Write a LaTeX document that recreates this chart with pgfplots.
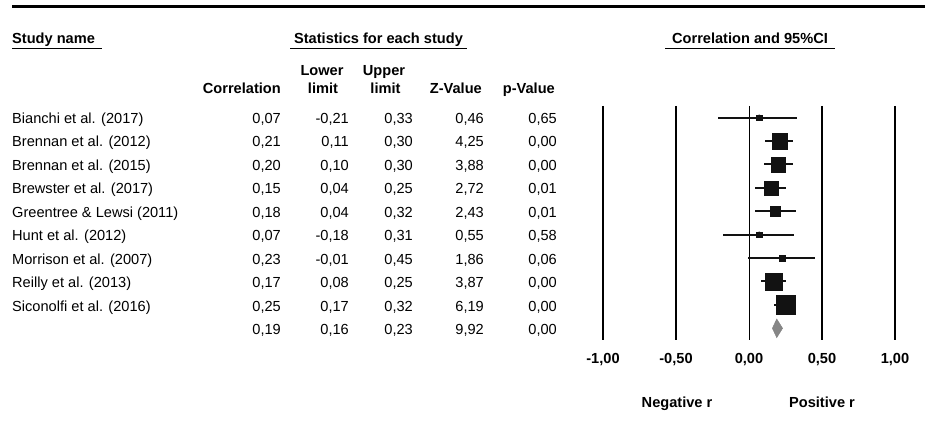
\documentclass[border=0pt]{standalone}
\usepackage{pgfplots}
\pgfplotsset{compat=1.18}
\usepackage{pgfplotstable}
\usepackage{fontspec}
\setmainfont{Liberation Sans}
\pgfplotstableread{
row r lo hi ms
1 0.07 -0.21 0.33 2.6
2 0.21 0.11 0.30 7.8
3 0.20 0.10 0.30 7.3
4 0.15 0.04 0.25 7.0
5 0.18 0.04 0.32 4.9
6 0.07 -0.18 0.31 2.8
7 0.23 -0.01 0.45 2.9
8 0.17 0.08 0.25 8.7
9 0.25 0.17 0.32 9.3
}\studies
\begin{document}
\fontsize{14.6}{17}\selectfont
\begin{tikzpicture}[x=1pt,y=1pt,every node/.style={inner sep=0pt}]
\useasboundingbox (0,0) rectangle (925,427);
\draw[line width=2.5pt] (12,420.5) -- (925,420.5);
% group headers
\node[anchor=base west, font=\bfseries] at (12,383.5) {Study name};
\draw[line width=0.9pt] (12,378.5) -- (102,378.5);
\node[anchor=base, font=\bfseries] at (378.5,383.5) {Statistics for each study};
\draw[line width=0.9pt] (290,378.5) -- (467,378.5);
\node[anchor=base, font=\bfseries] at (750,383.5) {Correlation and 95\%CI};
\draw[line width=0.9pt] (665,378.5) -- (835,378.5);
% column headers
\node[anchor=base east, font=\bfseries] at (281,333.5) {Correlation};
\node[anchor=base, font=\bfseries] at (322,351.5) {Lower};
\node[anchor=base, font=\bfseries] at (323,333.5) {limit};
\node[anchor=base, font=\bfseries] at (384,351.5) {Upper};
\node[anchor=base, font=\bfseries] at (385.5,333.5) {limit};
\node[anchor=base east, font=\bfseries] at (482,333.5) {Z-Value};
\node[anchor=base east, font=\bfseries] at (555,333.5) {p-Value};
% table rows
\foreach \nm/\c/\lo/\hi/\z/\p [count=\i from 0] in {
 {Bianchi et al. (2017)}/{0,07}/{-0,21}/{0,33}/{0,46}/{0,65},
 {Brennan et al. (2012)}/{0,21}/{0,11}/{0,30}/{4,25}/{0,00},
 {Brennan et al. (2015)}/{0,20}/{0,10}/{0,30}/{3,88}/{0,00},
 {Brewster et al. (2017)}/{0,15}/{0,04}/{0,25}/{2,72}/{0,01},
 {Greentree \& Lewsi (2011)}/{0,18}/{0,04}/{0,32}/{2,43}/{0,01},
 {Hunt et al. (2012)}/{0,07}/{-0,18}/{0,31}/{0,55}/{0,58},
 {Morrison et al. (2007)}/{0,23}/{-0,01}/{0,45}/{1,86}/{0,06},
 {Reilly et al. (2013)}/{0,17}/{0,08}/{0,25}/{3,87}/{0,00},
 {Siconolfi et al. (2016)}/{0,25}/{0,17}/{0,32}/{6,19}/{0,00},
 {}/{0,19}/{0,16}/{0,23}/{9,92}/{0,00}}
{
 \pgfmathsetmacro\yy{303.5-23.44*\i}
 \node[anchor=base west] at (12,\yy) {\nm};
 \node[anchor=base east] at (281,\yy) {\c};
 \node[anchor=base east] at (349,\yy) {\lo};
 \node[anchor=base east] at (413,\yy) {\hi};
 \node[anchor=base east] at (484,\yy) {\z};
 \node[anchor=base east] at (557,\yy) {\p};
}
\begin{axis}[
  at={(603pt,87pt)}, anchor=south west,
  scale only axis, width=292pt, height=234pt,
  xmin=-1, xmax=1, ymin=0.5, ymax=10.5, y dir=reverse,
  axis line style={draw=none}, major tick length=0pt, ytick=\empty,
  xtick={-1,-0.5,0.5,1},
  xticklabels={-1{,}00,-0{,}50,0{,}50,1{,}00},
  extra x ticks={0}, extra x tick labels={0{,}00},
  extra x tick style={grid style={line width=1pt, black}},
  xmajorgrids, grid style={line width=1.8pt, black},
  xticklabel style={anchor=base, yshift=-23.5pt, font=\bfseries},
  clip=false,
]
\addplot[black, line width=2pt, only marks, mark=none,
  error bars/.cd, x dir=both, x explicit, error mark=none,
  error bar style={line width=2pt, black!93}]
  table[x=r, y=row, x error plus expr=\thisrow{hi}-\thisrow{r},
        x error minus expr=\thisrow{r}-\thisrow{lo}] {\studies};
\addplot[scatter, only marks, mark=square*,
  point meta=\thisrow{ms},
  scatter/use mapped color={draw=black!93, fill=black!93},
  visualization depends on={\thisrow{ms} \as \msz},
  scatter/@pre marker code/.append style={/tikz/mark size=\msz pt}]
  table[x=r, y=row] {\studies};
\addplot[fill=gray!95, draw=gray] coordinates {(0.16,10) (0.19,9.6) (0.23,10) (0.19,10.4)} -- cycle;
\end{axis}
\node[anchor=base, font=\bfseries] at (677,19.5) {Negative r};
\node[anchor=base, font=\bfseries] at (822,19.5) {Positive r};
\end{tikzpicture}
\end{document}
